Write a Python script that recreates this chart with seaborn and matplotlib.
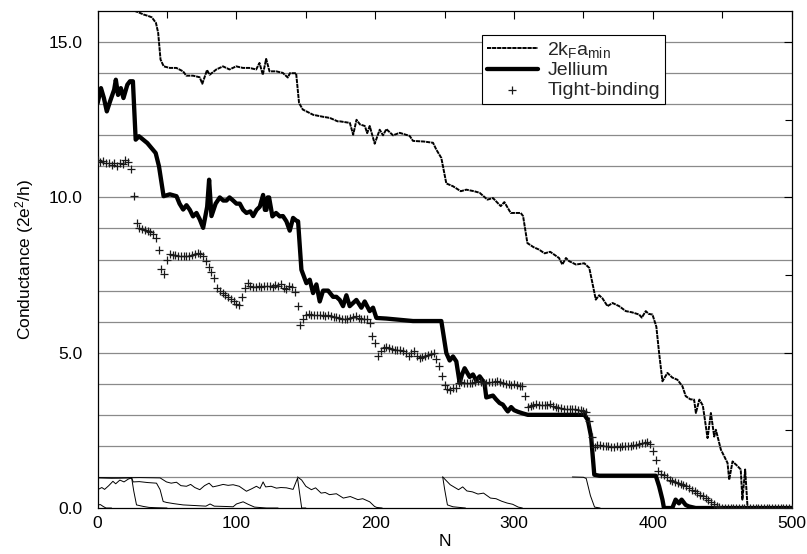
import numpy as np
import pandas as pd
import matplotlib
matplotlib.use("Agg")
import matplotlib.pyplot as plt
from matplotlib.ticker import MultipleLocator, FormatStrFormatter
import seaborn as sns

# ---- 2kF a_min estimate (thin line) ----
kf_n = [24, 27, 30, 33, 36, 39, 42, 43.6, 45.3, 47.6, 51.9, 56.7, 61.5, 63.9, 68.7,
        73.5, 75.4, 78.8, 80.7, 85.5, 90.3, 95, 99.8, 104.6, 109.4, 114.2, 116.6, 119,
        121.4, 123.8, 128.6, 133.4, 137, 138.5, 143, 145.1, 147.8, 150.5, 155.3, 162,
        167.3, 172.9, 174.5, 181.7, 184.1, 186.5, 189, 192.5, 194.2, 196, 199.6, 203.2,
        205.6, 208, 212.8, 217.6, 224.8, 227.2, 235, 241.6, 244, 247.6, 251.2, 256,
        261.6, 265.6, 271.2, 275.2, 280.8, 284.8, 290.4, 293, 297.6, 304.8, 306.5,
        309.6, 314, 318, 322, 326, 332.4, 334.8, 337.4, 339.6, 344.6, 350.6, 354.2,
        358.9, 361.3, 363.7, 367.3, 371, 375.7, 380.5, 385, 390.1, 392, 394.9, 397,
        399.7, 402.5, 404.5, 406.9, 410.5, 414, 417.7, 421.3, 423.7, 427, 429.7, 431,
        433.5, 436, 439.4, 441.8, 444.2, 445.4, 449, 453.8, 455, 457.4, 461, 463.3,
        464.5, 466.5, 468.2, 470, 500]
kf_g = [16.15, 16.0, 15.95, 15.89, 15.85, 15.8, 15.62, 15.3, 14.44, 14.22, 14.17, 14.17,
        14.06, 13.92, 13.92, 13.87, 13.66, 14.1, 13.95, 14.12, 14.22, 14.12, 14.22, 14.17,
        14.17, 14.12, 14.33, 13.95, 14.46, 14.06, 14.06, 14.01, 13.86, 14.0, 14.0, 13.04,
        12.83, 12.77, 12.66, 12.6, 12.56, 12.45, 12.45, 12.4, 12.02, 12.5, 12.35, 12.3,
        12.07, 12.3, 11.73, 12.18, 12.0, 12.2, 12.0, 12.08, 11.98, 11.82, 11.8, 11.76,
        11.54, 11.27, 10.45, 10.36, 10.2, 10.25, 10.2, 10.15, 9.93, 9.98, 9.72, 9.85,
        9.5, 9.5, 9.4, 8.53, 8.4, 8.32, 8.2, 8.25, 8.05, 7.84, 8.05, 7.95, 7.84, 7.88,
        7.73, 6.71, 6.85, 6.75, 6.5, 6.6, 6.5, 6.34, 6.3, 6.23, 6.13, 6.34, 6.25, 6.23,
        5.84, 4.99, 4.08, 4.35, 4.2, 4.13, 3.92, 3.6, 3.5, 3.49, 3.06, 3.49, 3.3, 2.25,
        3.06, 2.3, 2.52, 1.88, 1.45, 0.91, 1.5, 1.35, 1.24, 0.27, 1.24, 0.03, 0.0, 0.0]

# ---- Jellium model (thick line) ----
jel_n = [0, 2.4, 4.5, 6.6, 9, 11.9, 13.1, 14.7, 16.7, 18.6, 21.4, 23.3, 25.4, 27.4, 29.8,
         35.8, 41.8, 44.2, 47.5, 52, 56.8, 59, 61.6, 64, 66.4, 68.7, 71.2, 73.5, 76, 78.9,
         80.3, 82, 85, 88, 90.5, 92.8, 95, 97.6, 100, 102.4, 104.8, 107.2, 110, 112,
         114.5, 116.8, 119.2, 120.5, 121.6, 122.5, 123.5, 125.9, 128.5, 131.2, 133.5,
         136, 138.4, 140.8, 143.2, 144.4, 146.8, 150.4, 152.8, 155.2, 157.6, 160, 162.4,
         166, 169.6, 172, 174.4, 176.8, 179.2, 181.6, 184, 186.4, 190, 192.4, 196, 198.4,
         200.8, 208, 227.2, 247.6, 251.2, 253.6, 256, 258.4, 260.8, 262.5, 264.4, 268,
         270.4, 272.8, 275.2, 278.7, 280, 284.8, 287, 289.6, 291.9, 294.4, 295.5, 297.9,
         300, 302.7, 306, 309.9, 342.3, 350.7, 353.1, 355.5, 357.8, 361.4, 402.1, 404.5,
         406.9, 408, 414, 416.4, 418.8, 420.7, 423.6, 426, 430.8, 500]
jel_g = [13.04, 13.52, 13.2, 12.77, 13.1, 13.47, 13.79, 13.3, 13.52, 13.2, 13.63, 13.74,
         13.74, 11.86, 11.97, 11.75, 11.43, 11.0, 10.04, 10.1, 10.04, 9.8, 9.61, 9.75,
         9.6, 9.39, 9.5, 9.3, 9.02, 9.7, 10.57, 9.4, 9.8, 10.0, 9.9, 9.9, 10.0, 9.9, 9.8,
         9.8, 9.6, 9.5, 9.55, 9.4, 9.6, 9.7, 10.08, 9.6, 9.6, 10.0, 10.0, 9.39, 9.5, 9.39,
         9.4, 9.23, 8.93, 9.34, 9.25, 9.23, 7.67, 7.24, 7.35, 6.92, 7.2, 6.65, 7.0, 7.0,
         6.8, 6.8, 6.7, 6.5, 6.85, 6.5, 6.6, 6.7, 6.45, 6.65, 6.34, 6.45, 6.12, 6.1, 6.02,
         6.02, 4.99, 4.75, 4.88, 4.72, 4.03, 4.3, 4.5, 4.22, 4.3, 4.1, 4.24, 4.02, 3.56,
         3.62, 3.5, 3.38, 3.33, 3.17, 3.11, 3.25, 3.15, 3.1, 3.05, 3.0, 3.0, 3.0, 2.84,
         2.3, 1.07, 1.04, 1.04, 0.7, 0.27, 0.0, 0.0, 0.27, 0.15, 0.27, 0.1, 0.05, 0.0, 0.0]

# ---- Tight-binding model (crosses), one value every second N ----
tb_n = list(range(0, 502, 2))
tb_g = [
    11.22, 11.15, 11.18, 11.10, 11.12, 11.05, 11.10, 11.02, 11.12, 11.08,   # 0-18
    11.20, 11.15, 10.90, 10.04, 9.18, 9.00, 8.97, 8.95, 8.92, 8.88,        # 20-38
    8.82, 8.68, 8.30, 7.70, 7.55, 8.00, 8.17, 8.16, 8.15, 8.13,            # 40-58
    8.12, 8.10, 8.10, 8.13, 8.15, 8.18, 8.20, 8.18, 8.10, 7.95,            # 60-78
    7.75, 7.60, 7.40, 7.10, 6.98, 6.92, 6.86, 6.80, 6.72, 6.65,            # 80-98
    6.56, 6.55, 6.80, 7.10, 7.25, 7.15, 7.12, 7.13, 7.14, 7.12,            # 100-118
    7.15, 7.14, 7.16, 7.12, 7.18, 7.15, 7.20, 7.10, 7.05, 7.15,            # 120-138
    7.12, 6.95, 6.50, 5.90, 6.10, 6.23, 6.24, 6.22, 6.23, 6.20,            # 140-158
    6.22, 6.20, 6.19, 6.20, 6.18, 6.15, 6.14, 6.12, 6.10, 6.08,            # 160-178
    6.07, 6.12, 6.15, 6.17, 6.12, 6.10, 6.08, 6.07, 5.95, 5.55,            # 180-198
    5.30, 4.90, 5.05, 5.15, 5.20, 5.15, 5.12, 5.10, 5.08, 5.10,            # 200-218
    5.05, 4.99, 4.88, 4.98, 5.04, 4.90, 4.83, 4.86, 4.88, 4.92,            # 220-238
    4.97, 5.00, 4.80, 4.56, 4.24, 3.95, 3.82, 3.80, 3.85, 3.88,            # 240-258
    4.03, 4.05, 4.02, 4.04, 4.03, 4.04, 4.06, 4.08, 4.05, 4.03,            # 260-278
    4.04, 4.05, 4.07, 4.06, 4.08, 4.05, 4.02, 4.00, 3.98, 3.97,            # 280-298
    3.98, 3.95, 3.93, 3.92, 3.60, 3.25, 3.30, 3.33, 3.34, 3.32,            # 300-318
    3.33, 3.31, 3.33, 3.34, 3.30, 3.25, 3.22, 3.22, 3.20, 3.20,            # 320-338
    3.19, 3.18, 3.18, 3.17, 3.17, 3.12, 3.08, 2.80, 2.30, 1.98,            # 340-358
    2.02, 2.04, 2.01, 2.00, 1.99, 1.98, 1.97, 1.99, 1.98, 2.00,            # 360-378
    2.01, 1.99, 2.00, 2.02, 2.03, 2.05, 2.08, 2.10, 2.11, 2.05,            # 380-398
    1.85, 1.56, 1.20, 1.08, 1.07, 1.00, 0.91, 0.88, 0.84, 0.80,            # 400-418
    0.77, 0.74, 0.70, 0.64, 0.59, 0.55, 0.49, 0.42, 0.38, 0.33,            # 420-438
    0.25, 0.20, 0.12, 0.05, 0.02, 0.00, 0.00, 0.00, 0.00, 0.00,            # 440-458
    0.00, 0.00, 0.00, 0.00, 0.00, 0.00, 0.00, 0.00, 0.00, 0.00,            # 460-478
    0.00, 0.00, 0.00, 0.00, 0.00, 0.00, 0.00, 0.00, 0.00, 0.00,            # 480-498
    0.00]                                                                   # 500

# ---- individual channel transmissions (thin lines near the bottom) ----
ch_a_n = [0, 3, 5, 8, 11, 13, 16, 19, 22, 24.5, 26, 28, 33, 37, 42, 50]
ch_a_g = [0.59, 0.66, 0.6, 0.72, 0.86, 0.78, 0.9, 0.84, 0.93, 0.97, 0.55, 0.1, 0.05, 0.02, 0.01, 0.0]
ch_b_n = [0, 10, 20, 24.5, 25.6, 30, 36, 42.4, 45, 47.2, 49.6, 55, 61.6, 70, 78, 81, 84,
          92, 97.6, 100, 104.8, 108.4, 113, 121.6, 130]
ch_b_g = [0.97, 0.96, 0.97, 0.97, 0.84, 0.85, 0.82, 0.8, 0.59, 0.21, 0.18, 0.14, 0.1, 0.08,
          0.06, 0.13, 0.06, 0.05, 0.04, 0.13, 0.2, 0.12, 0.03, 0.0, 0.0]
ch_c_n = [0, 15, 30, 45, 49.6, 53, 56.8, 60, 64, 67, 70, 73.6, 77, 80.3, 83, 87, 90.4,
          94, 97.6, 102, 107.2, 111, 114.4, 117, 119.2, 121, 125, 128.8, 132, 136, 140.8,
          144, 147, 150]
ch_c_g = [0.98, 0.97, 0.98, 0.97, 0.84, 0.8, 0.83, 0.72, 0.7, 0.76, 0.66, 0.59, 0.72,
          0.8, 0.68, 0.72, 0.76, 0.73, 0.75, 0.7, 0.54, 0.62, 0.7, 0.63, 0.84, 0.68, 0.7,
          0.64, 0.66, 0.65, 0.6, 0.96, 0.0, 0.0]
ch_d_n = [0, 2, 4, 6, 10]
ch_d_g = [0.1, 0.11, 0.05, 0.0, 0.0]
ch_e_n = [144, 147, 150, 154, 157, 161, 164, 167, 172, 177, 182, 187.5, 191, 196, 199.5,
          201, 205]
ch_e_g = [1.0, 0.9, 0.7, 0.59, 0.65, 0.48, 0.5, 0.43, 0.46, 0.32, 0.37, 0.27, 0.3, 0.2,
          0.05, 0.02, 0.0]
ch_f_n = [248.6, 254, 260, 263, 266, 270, 274, 278, 283, 287, 291, 295, 299, 303, 306]
ch_f_g = [1.0, 0.75, 0.59, 0.68, 0.55, 0.52, 0.45, 0.48, 0.32, 0.3, 0.22, 0.16, 0.12, 0.03, 0.0]
ch_g_n = [248.6, 250, 252, 256, 265]
ch_g_g = [1.0, 0.6, 0.1, 0.04, 0.0]
ch_h_n = [342, 350, 352, 355, 358, 362]
ch_h_g = [1.0, 0.99, 0.95, 0.4, 0.03, 0.0]

channels = [(ch_a_n, ch_a_g), (ch_b_n, ch_b_g), (ch_c_n, ch_c_g), (ch_d_n, ch_d_g),
            (ch_e_n, ch_e_g), (ch_f_n, ch_f_g), (ch_g_n, ch_g_g), (ch_h_n, ch_h_g)]

series_labels = [r"2k$_\mathrm{F}$a$_\mathrm{min}$", "Jellium", "Tight-binding"]
y_tick_fmt = "%.1f"

# ---- style ----
sns.set_theme(style="white")
plt.rcParams["font.family"] = ["Liberation Sans", "DejaVu Sans"]
plt.rcParams["mathtext.fontset"] = "custom"
plt.rcParams["mathtext.rm"] = "Liberation Sans"
plt.rcParams["mathtext.it"] = "Liberation Sans:italic"
plt.rcParams["axes.edgecolor"] = "black"
plt.rcParams["axes.linewidth"] = 0.9

fig, ax = plt.subplots(figsize=(8.07, 5.54), dpi=100)
fig.subplots_adjust(left=0.121, right=0.981, top=0.980, bottom=0.083)

# horizontal rules at every integer conductance
for level in range(1, 16):
    ax.axhline(level, color="#8a8a8a", lw=0.9, zorder=0)

for cn, cg in channels:
    sns.lineplot(x=cn, y=cg, ax=ax, color="black", lw=0.7, sort=False,
                 estimator=None, legend=False, zorder=2)

sns.lineplot(x=kf_n, y=kf_g, ax=ax, color="black", lw=1.4, sort=False,
             estimator=None, linestyle=(0, (2.2, 0.4)), label=series_labels[0], zorder=3)
sns.lineplot(x=jel_n, y=jel_g, ax=ax, color="black", lw=3.1, sort=False,
             estimator=None, label=series_labels[1], zorder=4)
sns.scatterplot(x=tb_n, y=tb_g, ax=ax, marker="+", color="#1a1a1a", s=26,
                linewidth=0.9, label=series_labels[2], zorder=5)

ax.set_xlim(0, 500)
ax.set_ylim(0, 16)
ax.xaxis.set_major_locator(MultipleLocator(100))
ax.xaxis.set_minor_locator(MultipleLocator(50))
ax.yaxis.set_major_locator(MultipleLocator(5))
ax.yaxis.set_minor_locator(MultipleLocator(2.5))
ax.yaxis.set_major_formatter(FormatStrFormatter(y_tick_fmt))
ax.tick_params(which="both", direction="in", top=True, right=True,
               color="black", width=0.8)
ax.tick_params(which="major", length=6, labelsize=12.5, labelcolor="black")
ax.tick_params(which="minor", length=5)
ax.tick_params(axis="x", which="major", pad=6)
ax.tick_params(axis="y", which="major", pad=11)

ax.set_xlabel("N", fontsize=12.5, color="black", labelpad=2)
ax.set_ylabel(r"Conductance (2e$^2$/h)", fontsize=12.5, color="black", labelpad=9)

leg = ax.legend(loc="upper left", bbox_to_anchor=(0.554, 0.952), borderaxespad=0,
                fontsize=14, frameon=True, fancybox=False, framealpha=1,
                edgecolor="black", handlelength=2.6, handletextpad=0.5,
                labelspacing=0.1, borderpad=0.25, scatterpoints=1)
leg.get_frame().set_linewidth(0.8)

for spine in ax.spines.values():
    spine.set_visible(True)
    spine.set_color("black")

fig.savefig("out.png", dpi=100)
